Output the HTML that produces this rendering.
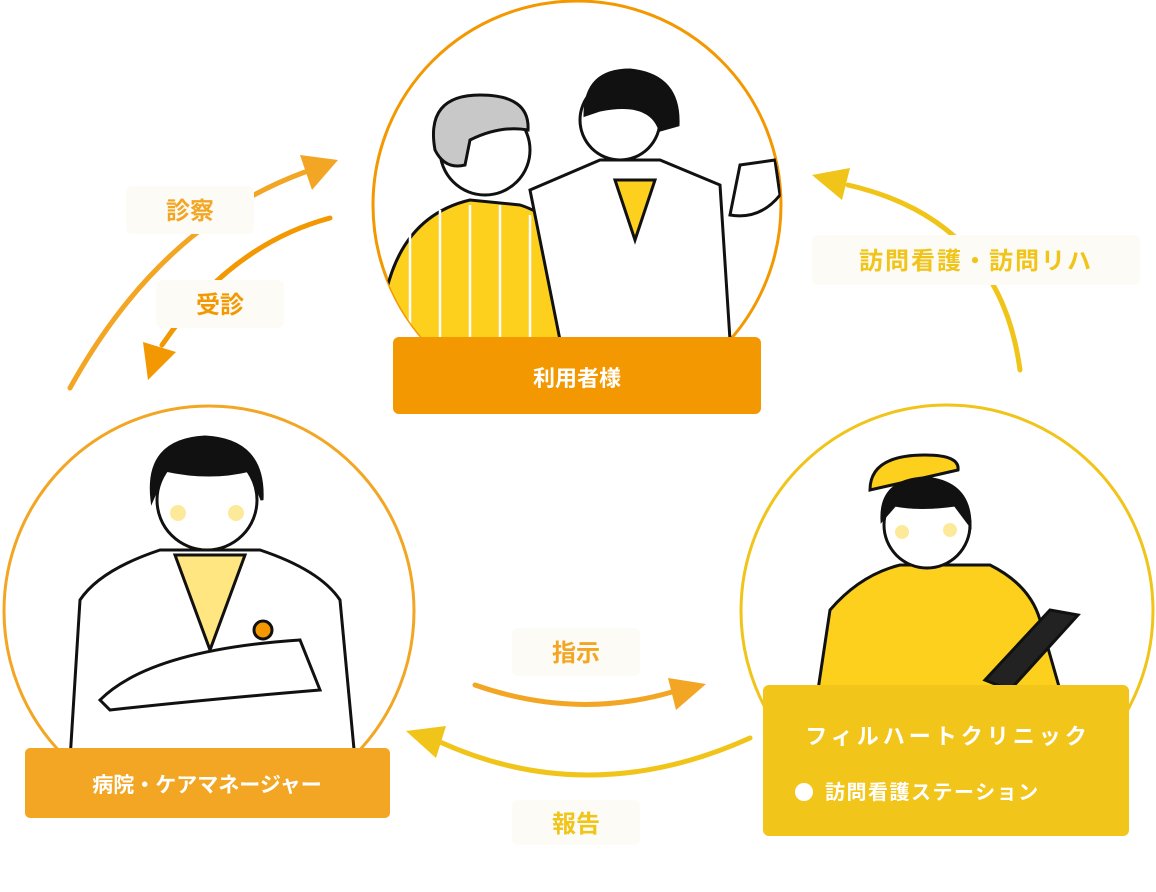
<!DOCTYPE html>
<html><head><meta charset="utf-8"><style>
body{margin:0;background:#fff;width:1156px;height:887px;overflow:hidden;font-family:"Liberation Sans","Noto Sans CJK JP",sans-serif}
</style></head><body>
<svg width="1156" height="887" viewBox="0 0 1156 887" xmlns="http://www.w3.org/2000/svg" font-family="Liberation Sans, Noto Sans CJK JP, sans-serif" font-weight="bold">
<defs>
<clipPath id="c1"><circle cx="577" cy="205" r="204"/></clipPath>
<clipPath id="c2"><circle cx="209" cy="611" r="205"/></clipPath>
<clipPath id="c3"><circle cx="947" cy="611" r="206"/></clipPath>
</defs>
<circle cx="577" cy="205" r="204" fill="#fff" stroke="#f39800" stroke-width="3"/>
<g clip-path="url(#c1)" stroke="#111" stroke-width="3">
 <path d="M380,340 Q385,220 470,200 L520,205 Q585,225 595,340 Z" fill="#fcd01c"/>
 <g stroke="#fff" stroke-width="2.5"><line x1="410" y1="230" x2="410" y2="340"/><line x1="440" y1="210" x2="440" y2="340"/><line x1="470" y1="205" x2="470" y2="340"/><line x1="500" y1="205" x2="500" y2="340"/><line x1="530" y1="215" x2="530" y2="340"/><line x1="560" y1="240" x2="560" y2="340"/></g>
 <circle cx="485" cy="150" r="45" fill="#fff"/>
 <path d="M435,150 Q425,95 480,95 Q530,95 528,130 Q500,125 470,140 L465,165 Q445,170 435,150 Z" fill="#c8c8c8"/>
 <path d="M530,190 L600,160 L660,160 L720,185 L730,340 L560,340 Z" fill="#fff"/>
 <path d="M615,180 L635,240 L655,180 Z" fill="#fcd01c"/>
 <circle cx="620" cy="120" r="40" fill="#fff"/>
 <path d="M585,115 Q585,70 630,70 Q680,75 678,125 L660,130 Q650,100 600,110 Z" fill="#111"/>
 <path d="M730,215 L740,165 L775,160 L780,195 Q760,220 730,215 Z" fill="#fff"/>
</g>
<rect x="393" y="337" width="368" height="77" rx="6" fill="#f39800"/>
<text x="577" y="386" font-size="22" fill="#fff" text-anchor="middle">利用者様</text>

<circle cx="209" cy="611" r="205" fill="#fff" stroke="#f2a623" stroke-width="3"/>
<g clip-path="url(#c2)" stroke="#111" stroke-width="3">
 <path d="M70,760 L80,600 Q100,570 160,550 L260,550 Q320,570 340,600 L355,760 Z" fill="#fff"/>
 <path d="M175,555 L210,650 L245,555 Z" fill="#ffe680"/>
 <path d="M100,700 Q150,650 300,640 L320,690 Q200,700 110,710 Z" fill="#fff"/>
 <circle cx="263" cy="630" r="9" fill="#f39800"/>
 <circle cx="207" cy="500" r="50" fill="#fff"/>
 <path d="M152,500 Q145,440 205,437 Q265,440 262,500 L250,470 Q210,480 165,470 Z" fill="#111"/>
</g>
<circle cx="178" cy="513" r="8" fill="#fde99a"/><circle cx="236" cy="513" r="8" fill="#fde99a"/>
<rect x="25" y="748" width="365" height="70" rx="5" fill="#f2a623"/>
<text x="207" y="792" font-size="21" fill="#fff" text-anchor="middle">病院・ケアマネージャー</text>

<circle cx="947" cy="611" r="206" fill="#fff" stroke="#f0c419" stroke-width="3"/>
<g clip-path="url(#c3)" stroke="#111" stroke-width="3">
 <path d="M818,690 L830,610 Q860,575 900,565 L990,565 Q1030,585 1040,620 L1060,690 Z" fill="#fcd01c"/>
 <path d="M985,680 L1050,610 L1078,615 L1010,690 Z" fill="#222"/>
 <circle cx="927" cy="525" r="43" fill="#fff"/>
 <path d="M870,490 Q870,455 925,455 Q960,455 958,470 L870,490 Z" fill="#fcd01c"/>
 <path d="M882,520 Q880,480 925,478 Q970,482 970,525 L955,505 Q920,510 895,505 Z" fill="#111"/>
</g>
<circle cx="902" cy="532" r="7" fill="#fde99a"/><circle cx="950" cy="530" r="7" fill="#fde99a"/>
<rect x="763" y="685" width="366" height="151" rx="6" fill="#f2c51a"/>
<text x="948" y="744" font-size="22" fill="#fff" text-anchor="middle" letter-spacing="4">フィルハートクリニック</text>
<circle cx="804" cy="792" r="9" fill="#fff"/>
<text x="825" y="799" font-size="20" fill="#fff" letter-spacing="1.5">訪問看護ステーション</text>

<g fill="none" stroke-width="5" stroke-linecap="round">
 <path d="M70,388 Q160,225 305,172" stroke="#f2a623"/>
 <path d="M330,218 Q230,245 162,345" stroke="#f39800"/>
 <path d="M1020,370 Q1000,220 848,185" stroke="#f0c419"/>
 <path d="M475,685 Q575,720 672,692" stroke="#f2a623"/>
 <path d="M750,738 Q590,810 440,742" stroke="#f0c419"/>
</g>
<polygon points="338,160 300,155 312,190" fill="#f2a623"/>
<polygon points="148,380 143,342 176,352" fill="#f39800"/>
<polygon points="812,175 850,168 842,200" fill="#f0c419"/>
<polygon points="706,684 668,678 676,710" fill="#f2a623"/>
<polygon points="406,731 446,726 436,758" fill="#f0c419"/>

<g fill="#fdfbf6">
 <rect x="126" y="186" width="128" height="48" rx="6"/>
 <rect x="156" y="280" width="128" height="48" rx="6"/>
 <rect x="812" y="235" width="328" height="50" rx="6"/>
 <rect x="512" y="628" width="128" height="48" rx="6"/>
 <rect x="512" y="800" width="128" height="45" rx="6"/>
</g>
<g font-size="24" fill="#f2a623" text-anchor="middle">
 <text x="190" y="219">診察</text>
 <text x="220" y="313" fill="#f39800">受診</text>
 <text x="976" y="269" fill="#f0c419" letter-spacing="2">訪問看護・訪問リハ</text>
 <text x="576" y="661">指示</text>
 <text x="576" y="832" fill="#f0c419">報告</text>
</g>
</svg>
</body></html>
